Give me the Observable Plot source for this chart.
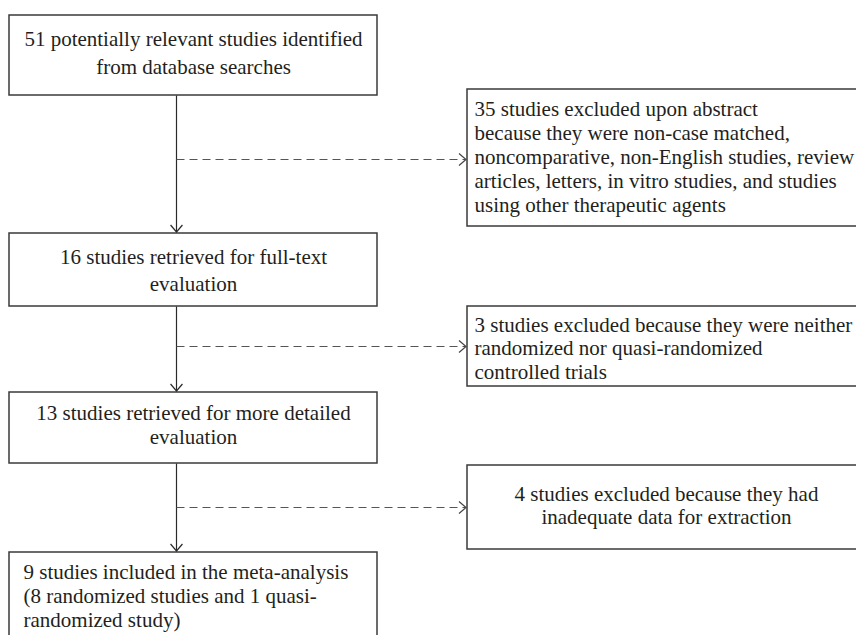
<!DOCTYPE html>
<html><head><meta charset="utf-8">
<script src="https://cdn.jsdelivr.net/npm/d3@7"></script>
<script src="https://cdn.jsdelivr.net/npm/@observablehq/plot@0.6"></script>
<style>html,body{margin:0;padding:0;background:#fff;overflow:hidden}</style>
</head><body><div id="chart"></div>
<script>
// ---- content ----
const stepCounts = [51, 16, 13, 9];
const stepLabels = [
  "51 potentially relevant studies identified\nfrom database searches",
  "16 studies retrieved for full-text\nevaluation",
  "13 studies retrieved for more detailed\nevaluation",
  "9 studies included in the meta-analysis\n(8 randomized studies and 1 quasi-\nrandomized study)"
];
const excludedCounts = [35, 3, 4];
const excludedLabels = [
  "35 studies excluded upon abstract\nbecause they were non-case matched,\nnoncomparative, non-English studies, review\narticles, letters, in vitro studies, and studies\nusing other therapeutic agents",
  "3 studies excluded because they were neither\nrandomized nor quasi-randomized\ncontrolled trials",
  "4 studies excluded because they had\ninadequate data for extraction"
];

// ---- layout (page units) ----
const W = 856, H = 635;
const spineX = 176;
const stepBoxX = [9, 377];
const stepBoxY = [[15, 95], [233, 306], [392, 463], [552, 670]];
const stepTextPos = [
  {x: 193, y: 51, anchor: "middle", lh: 28 / 21},
  {x: 193, y: 268, anchor: "middle", lh: 27 / 21},
  {x: 193, y: 424, anchor: "middle", lh: 24 / 21},
  {x: 23, y: 595, anchor: "start", lh: 24 / 21}
];
const exclBoxX = [467, 900];
const exclBoxY = [[89, 226], [306, 386], [465, 549]];
const exclTextPos = [
  {x: 474, y: 156, anchor: "start", lh: 24 / 21},
  {x: 474, y: 347, anchor: "start", lh: 23.5 / 21},
  {x: 666, y: 505, anchor: "middle", lh: 23 / 21}
];
const connectorY = [159, 346, 507];
const arrowTipX = 465.5;

// ---- tables built from the arrays ----
const boxes = [
  ...stepBoxY.map(([y1, y2]) => ({x1: stepBoxX[0], x2: stepBoxX[1], y1, y2})),
  ...exclBoxY.map(([y1, y2]) => ({x1: exclBoxX[0], x2: exclBoxX[1], y1, y2}))
];
const spine = stepBoxY.slice(0, -1).map(([, bottom], i) => ({
  x: spineX, y1: bottom, y2: stepBoxY[i + 1][0] - 1.5
}));
const connectors = connectorY.map((y, i) => ({y, count: excludedCounts[i]}));
const labels = [
  ...stepLabels.map((text, i) => ({text, ...stepTextPos[i]})),
  ...excludedLabels.map((text, i) => ({text, ...exclTextPos[i]}))
];

// open chevron arrowheads as custom symbols (tip at the anchor point)
const chevronRight = {draw(ctx, size) {
  const r = Math.sqrt(size / Math.PI);
  ctx.moveTo(-r, -r * 0.85); ctx.lineTo(0, 0); ctx.lineTo(-r, r * 0.85);
}};
const chevronDown = {draw(ctx, size) {
  const r = Math.sqrt(size / Math.PI);
  ctx.moveTo(-r * 0.85, -r); ctx.lineTo(0, 0); ctx.lineTo(r * 0.85, -r);
}};

const ink = "#231f20";

const chart = Plot.plot({
  width: W, height: H, margin: 0,
  x: {domain: [0, W], range: [0, W], axis: null},
  y: {domain: [0, H], range: [0, H], axis: null},
  style: {fontFamily: "'Liberation Serif', 'Times New Roman', serif", background: "#fff", color: ink},
  marks: [
    Plot.rect(boxes, {x1: "x1", x2: "x2", y1: "y1", y2: "y2", fill: "#fff", stroke: "#3a3a3a", strokeWidth: 1.5, clip: true}),
    Plot.link(spine, {x1: "x", x2: "x", y1: "y1", y2: "y2", stroke: "#2a2a2a", strokeWidth: 1.2}),
    Plot.dot(spine, {x: "x", y: "y2", symbol: chevronDown, r: 7, fill: "none", stroke: "#2a2a2a", strokeWidth: 1.2}),
    Plot.link(connectors, {x1: () => spineX, x2: () => arrowTipX - 0.5, y1: "y", y2: "y", stroke: "#555", strokeWidth: 1.2, strokeDasharray: "8,5"}),
    Plot.dot(connectors, {x: () => arrowTipX, y: "y", symbol: chevronRight, r: 7, fill: "none", stroke: "#444", strokeWidth: 1.2}),
    ...labels.map(d => Plot.text([d], {
      x: "x", y: "y", text: "text", textAnchor: d.anchor, lineAnchor: "middle",
      lineHeight: d.lh, fontSize: 21, fill: ink
    }))
  ]
});
document.getElementById("chart").append(chart);
</script>
</body></html>
